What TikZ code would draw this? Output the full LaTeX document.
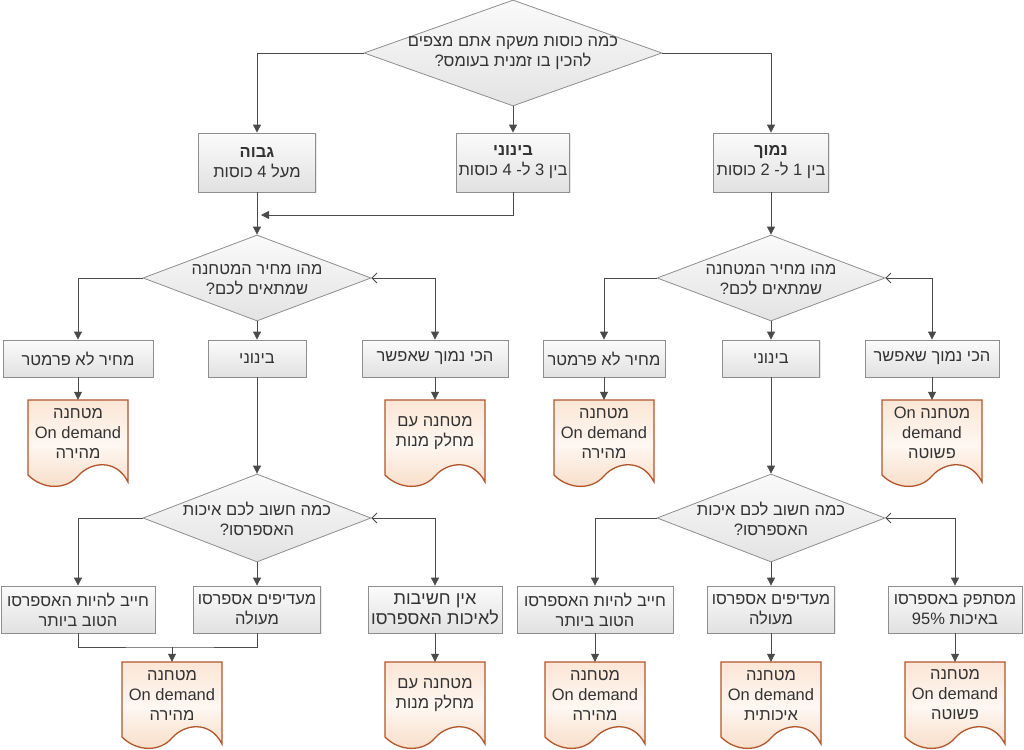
\documentclass[tikz,border=0pt]{standalone}
\usepackage{fontspec}
\setmainfont{Liberation Sans}[Script=Hebrew]
\TeXXeTstate=1
\usetikzlibrary{shapes.geometric,arrows.meta,shadows}
\definecolor{linec}{HTML}{4A4A4A}
\definecolor{boxborder}{HTML}{8E8E8E}
\definecolor{boxtop}{HTML}{FBFBFB}
\definecolor{boxbot}{HTML}{E1E1E1}
\definecolor{diatop}{HTML}{FAFAFA}
\definecolor{diabot}{HTML}{E3E3E3}
\definecolor{docborder}{HTML}{B0552C}
\definecolor{doctop}{HTML}{FBE6D6}
\definecolor{docmid}{HTML}{FEF7F1}
\definecolor{docbot}{HTML}{F8DCC6}
\definecolor{textc}{HTML}{333333}
\newcommand{\rtl}[1]{\beginR #1\endR}
\tikzset{
  txt/.style={font=\fontsize{16.5}{20}\selectfont, text=textc, align=center},
  box/.style={rectangle, draw=boxborder, line width=.8pt, top color=boxtop, bottom color=boxbot,
    inner sep=0pt, txt, drop shadow={shadow xshift=1.2pt, shadow yshift=-1.2pt, opacity=.18}},
  dia/.style={diamond, draw=boxborder, line width=.8pt, top color=diatop, bottom color=diabot, inner sep=0pt},
  dtext/.style={txt, inner sep=0pt},
  docframe/.style={rectangle, minimum width=100pt, minimum height=76pt, inner sep=0pt},
  docpaint/.style={draw=docborder, line width=1.3pt, top color=doctop, bottom color=docbot, middle color=docmid},
  conn/.style={draw=linec, line width=.8pt, -{Triangle[length=8pt,width=8pt]}},
  bconn/.style={draw=linec, line width=.8pt, {Straight Barb[length=5pt,width=10pt]}-{Triangle[length=8pt,width=8pt]}},
  plain/.style={draw=linec, line width=.8pt},
}
\newcommand{\docshape}[4]{%
  \node[docframe] (#1) at (#2,#3+38) {};
  \path[docpaint] (#2-50,#3) -- (#2+50,#3) -- (#2+50,#3+82)
    .. controls (#2+38,#3+58) and (#2+12,#3+62) .. (#2,#3+76)
    .. controls (#2-12,#3+90) and (#2-35,#3+90) .. (#2-50,#3+75) -- cycle;
  \node[dtext] (#1t) at (#2,#3+33) {#4};
}
\begin{document}
\begin{tikzpicture}[x=1pt, y=-1pt]
\fill[white] (0,0) rectangle (1024,749);
\useasboundingbox (0,0) rectangle (1024,749);

% top decision
\node[dia, minimum width=298pt, minimum height=106pt] (q0) at (513,53) {};
\node[dtext] (q0t) at (513,53) {\rtl{כמה כוסות משקה אתם מצפים}\\\rtl{להכין בו זמנית בעומס?}};

% level 1
\node[box, minimum width=117pt, minimum height=59pt] (bhigh) at (257,162.5) {\textbf{\rtl{גבוה}}\\\rtl{מעל 4 כוסות}};
\node[box, minimum width=113pt, minimum height=59pt] (bmid) at (513,162.5) {\textbf{\rtl{בינוני}}\\\rtl{בין 3 ל- 4 כוסות}};
\node[box, minimum width=115pt, minimum height=59pt] (blow) at (771,162.5) {\textbf{\rtl{נמוך}}\\\rtl{בין 1 ל- 2 כוסות}};

\draw[conn] (q0.west) -| (bhigh.north);
\draw[conn] (q0.east) -| (blow.north);
\draw[conn] (q0.south) -- (bmid.north);

% level 2 decisions
\node[dia, minimum width=228pt, minimum height=86pt] (d1) at (257,278) {};
\node[dtext] (d1t) at (257,280) {\rtl{מהו מחיר המטחנה}\\\rtl{שמתאים לכם?}};
\node[dia, minimum width=228pt, minimum height=86pt] (d2) at (771,278) {};
\node[dtext] (d2t) at (771,280) {\rtl{מהו מחיר המטחנה}\\\rtl{שמתאים לכם?}};

\coordinate (j1) at (261,215);
\draw[conn] (bmid.south) |- (j1);
\draw[conn] (bhigh.south) -- (d1.north);
\draw[conn] (blow.south) -- (d2.north);

% level 3 boxes
\node[box, minimum width=150pt, minimum height=37pt] (lexp) at (78,358.5) {\rtl{מחיר לא פרמטר}};
\node[box, minimum width=98pt, minimum height=37pt] (lmid) at (257,358.5) {\rtl{בינוני}};
\node[box, minimum width=146pt, minimum height=37pt] (lcheap) at (435,358.5) {\rtl{הכי נמוך שאפשר}};
\node[box, minimum width=122pt, minimum height=37pt] (rexp) at (604,358.5) {\rtl{מחיר לא פרמטר}};
\node[box, minimum width=97pt, minimum height=37pt] (rmid) at (771,358.5) {\rtl{בינוני}};
\node[box, minimum width=134pt, minimum height=37pt] (rcheap) at (932,358.5) {\rtl{הכי נמוך שאפשר}};

\draw[conn] (d1.west) -| (lexp.north);
\draw[conn] (d1.south) -- (lmid.north);
\draw[bconn] (d1.east) -| (lcheap.north);
\draw[conn] (d2.west) -| (rexp.north);
\draw[conn] (d2.south) -- (rmid.north);
\draw[bconn] (d2.east) -| (rcheap.north);

% level 4 documents
\docshape{ldoc1}{78}{400}{\rtl{מטחנה}\\On demand\\\rtl{מהירה}}
\docshape{ldoc2}{435}{400}{\rtl{מטחנה עם}\\\rtl{מחלק מנות}}
\docshape{rdoc1}{604}{400}{\rtl{מטחנה}\\On demand\\\rtl{מהירה}}
\docshape{rdoc2}{932}{400}{\rtl{מטחנה \beginL On\endL{}}\\demand\\\rtl{פשוטה}}

\draw[conn] (lexp.south) -- (ldoc1.north);
\draw[conn] (lcheap.south) -- (ldoc2.north);
\draw[conn] (rexp.south) -- (rdoc1.north);
\draw[conn] (rcheap.south) -- (rdoc2.north);

% level 5 decisions
\node[dia, minimum width=228pt, minimum height=88pt] (d3) at (257,518) {};
\node[dtext] (d3t) at (257,519) {\rtl{כמה חשוב לכם איכות}\\\rtl{האספרסו?}};
\node[dia, minimum width=228pt, minimum height=88pt] (d4) at (771,518) {};
\node[dtext] (d4t) at (771,519) {\rtl{כמה חשוב לכם איכות}\\\rtl{האספרסו?}};

\draw[conn] (lmid.south) -- (d3.north);
\draw[conn] (rmid.south) -- (d4.north);

% level 6 boxes
\node[box, minimum width=154pt, minimum height=47pt] (lmust) at (78,609.5) {\rtl{חייב להיות האספרסו}\\\rtl{הטוב ביותר}};
\node[box, minimum width=127pt, minimum height=47pt] (lpref) at (257,609.5) {\rtl{מעדיפים אספרסו}\\\rtl{מעולה}};
\node[box, minimum width=134pt, minimum height=47pt, font=\fontsize{18}{20}\selectfont] (lnone) at (435,609.5) {\rtl{אין חשיבות}\\\rtl{לאיכות האספרסו}};
\node[box, minimum width=156pt, minimum height=47pt] (rmust) at (595,609.5) {\rtl{חייב להיות האספרסו}\\\rtl{הטוב ביותר}};
\node[box, minimum width=127pt, minimum height=47pt] (rpref) at (771,609.5) {\rtl{מעדיפים אספרסו}\\\rtl{מעולה}};
\node[box, minimum width=134pt, minimum height=47pt] (rok) at (955,609.5) {\rtl{מסתפק באספרסו}\\\rtl{באיכות \beginL 95\%\endL{}}};

\draw[conn] (d3.west) -| (lmust.north);
\draw[conn] (d3.south) -- (lpref.north);
\draw[bconn] (d3.east) -| (lnone.north);
\draw[conn] (d4.west) -| (rmust.north);
\draw[conn] (d4.south) -- (rpref.north);
\draw[bconn] (d4.east) -| (rok.north);

% level 7 documents
\docshape{ldoc3}{172}{662}{\rtl{מטחנה}\\On demand\\\rtl{מהירה}}
\docshape{ldoc4}{435}{662}{\rtl{מטחנה עם}\\\rtl{מחלק מנות}}
\docshape{rdoc3}{595}{662}{\rtl{מטחנה}\\On demand\\\rtl{מהירה}}
\docshape{rdoc4}{771}{662}{\rtl{מטחנה}\\On demand\\\rtl{איכותית}}
\docshape{rdoc5}{955}{662}{\rtl{מטחנה}\\On demand\\\rtl{פשוטה}}

\coordinate (j2) at (172,647);
\draw[plain] (lmust.south) |- (j2) -| (lpref.south);
\draw[conn] (j2) -- (ldoc3.north);
\draw[conn] (lnone.south) -- (ldoc4.north);
\draw[conn] (rmust.south) -- (rdoc3.north);
\draw[conn] (rpref.south) -- (rdoc4.north);
\draw[conn] (rok.south) -- (rdoc5.north);
\end{tikzpicture}
\end{document}
